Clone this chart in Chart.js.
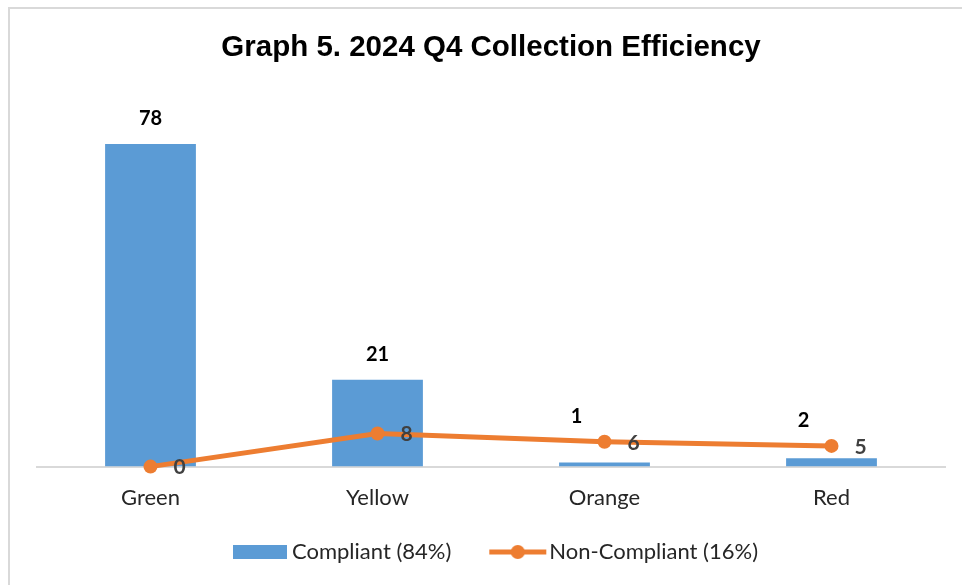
<!DOCTYPE html>
<html>
<head>
<meta charset="utf-8">
<script src="https://cdn.jsdelivr.net/npm/chart.js@4/dist/chart.umd.min.js"></script>
<style>
  html, body { margin: 0; padding: 0; background: #fff; overflow: hidden; }
  #frame {
    position: absolute; left: 8px; top: 7px; width: 1000px; height: 640px;
    border: 2px solid #d9d9d9; box-sizing: border-box;
  }
  #wrap { position: absolute; left: 0; top: 0; width: 962px; height: 585px; }
</style>
</head>
<body>
<div id="frame"></div>
<div id="wrap"><canvas id="graficoCanvas" width="962" height="585"></canvas></div>
<script>
// ---------- Data ----------
const categories = ["Green", "Yellow", "Orange", "Red"];
const compliant = [78, 21, 1, 2];
const nonCompliant = [0, 8, 6, 5];
const compliantLabel = "Compliant (84%)";
const nonCompliantLabel = "Non-Compliant (16%)";

const BLUE = "#5b9bd5";
const ORANGE = "#ed7d31";
const FONT = "Lato, 'Open Sans', sans-serif";

// ---------- Legend icons ----------
// box is ICON_BOX wide; canvas overhangs 10px each side so the icon can sit near its text
const ICON_BOX = 57;
function makeIcon(kind) {
  const c = document.createElement("canvas");
  c.width = ICON_BOX + 20; c.height = 16;
  const g = c.getContext("2d");
  if (kind === "bar") {
    g.fillStyle = BLUE;
    g.fillRect(19, 1, 54, 14);
  } else {
    g.strokeStyle = ORANGE;
    g.lineWidth = 5;
    g.beginPath(); g.moveTo(18, 8); g.lineTo(75, 8); g.stroke();
    g.fillStyle = ORANGE;
    g.beginPath(); g.arc(46.5, 8, 7, 0, Math.PI * 2); g.fill();
  }
  return c;
}
const barIcon = makeIcon("bar");
const lineIcon = makeIcon("line");

// ---------- Value labels ----------
const valueLabels = {
  id: "valueLabels",
  afterDatasetsDraw(chart) {
    const ctx = chart.ctx;
    const bars = chart.getDatasetMeta(0).data;
    const pts = chart.getDatasetMeta(1).data;
    ctx.save();
    ctx.textAlign = "center";
    ctx.textBaseline = "middle";
    ctx.font = "bold 20px " + FONT;
    bars.forEach((b, i) => {
      const p = pts[i];
      const crowded = p.y < b.y;
      const y = Math.min(b.y, p.y) - 25;
      const x = crowded ? b.x - 28 : b.x;
      ctx.fillStyle = "#000";
      ctx.fillText(String(compliant[i]), x, y);
    });
    ctx.font = "bold 21px " + FONT;
    pts.forEach((p, i) => {
      ctx.fillStyle = "#404040";
      ctx.fillText(String(nonCompliant[i]), p.x + 29, p.y + 1);
    });
    ctx.restore();
  }
};

const ctx = document.getElementById("graficoCanvas").getContext("2d");
new Chart(ctx, {
  data: {
    labels: categories,
    datasets: [
      {
        type: "bar",
        label: compliantLabel,
        data: compliant,
        backgroundColor: BLUE,
        barPercentage: 0.4,
        categoryPercentage: 1.0,
        order: 2
      },
      {
        type: "line",
        label: nonCompliantLabel,
        data: nonCompliant,
        borderColor: ORANGE,
        backgroundColor: ORANGE,
        borderWidth: 5,
        pointRadius: 7,
        pointHoverRadius: 7,
        pointBackgroundColor: ORANGE,
        pointBorderWidth: 0,
        tension: 0,
        clip: false,
        order: 1
      }
    ]
  },
  options: {
    responsive: false,
    animation: false,
    layout: { padding: { left: 37, right: 17, top: 0, bottom: 12 } },
    scales: {
      x: {
        grid: { display: false, drawTicks: false },
        border: { display: true, color: "#d9d9d9", width: 2 },
        ticks: { color: "#262626", font: { family: FONT, size: 22 }, padding: 18 },
        afterFit: (scale) => { scale.height -= 18; }
      },
      y: {
        min: 0,
        max: 90,
        display: false
      }
    },
    plugins: {
      title: {
        display: true,
        text: "Graph 5. 2024 Q4 Collection Efficiency",
        color: "#000",
        font: { family: "'Liberation Sans', Arial, sans-serif", size: 29.5, weight: "bold" },
        padding: { top: 30, bottom: 29 }
      },
      legend: {
        position: "bottom",
        labels: {
          usePointStyle: true,
          pointStyleWidth: ICON_BOX,
          boxHeight: 16,
          padding: 30,
          color: "#262626",
          font: { family: FONT, size: 22 },
          generateLabels: () => [
            { text: compliantLabel, pointStyle: barIcon, fontColor: "#262626", datasetIndex: 0, lineWidth: 0, strokeStyle: "transparent", fillStyle: BLUE },
            { text: nonCompliantLabel, pointStyle: lineIcon, fontColor: "#262626", datasetIndex: 1, lineWidth: 0, strokeStyle: "transparent", fillStyle: ORANGE }
          ]
        }
      },
      tooltip: { enabled: false }
    }
  },
  plugins: [valueLabels]
});
</script>
</body>
</html>
